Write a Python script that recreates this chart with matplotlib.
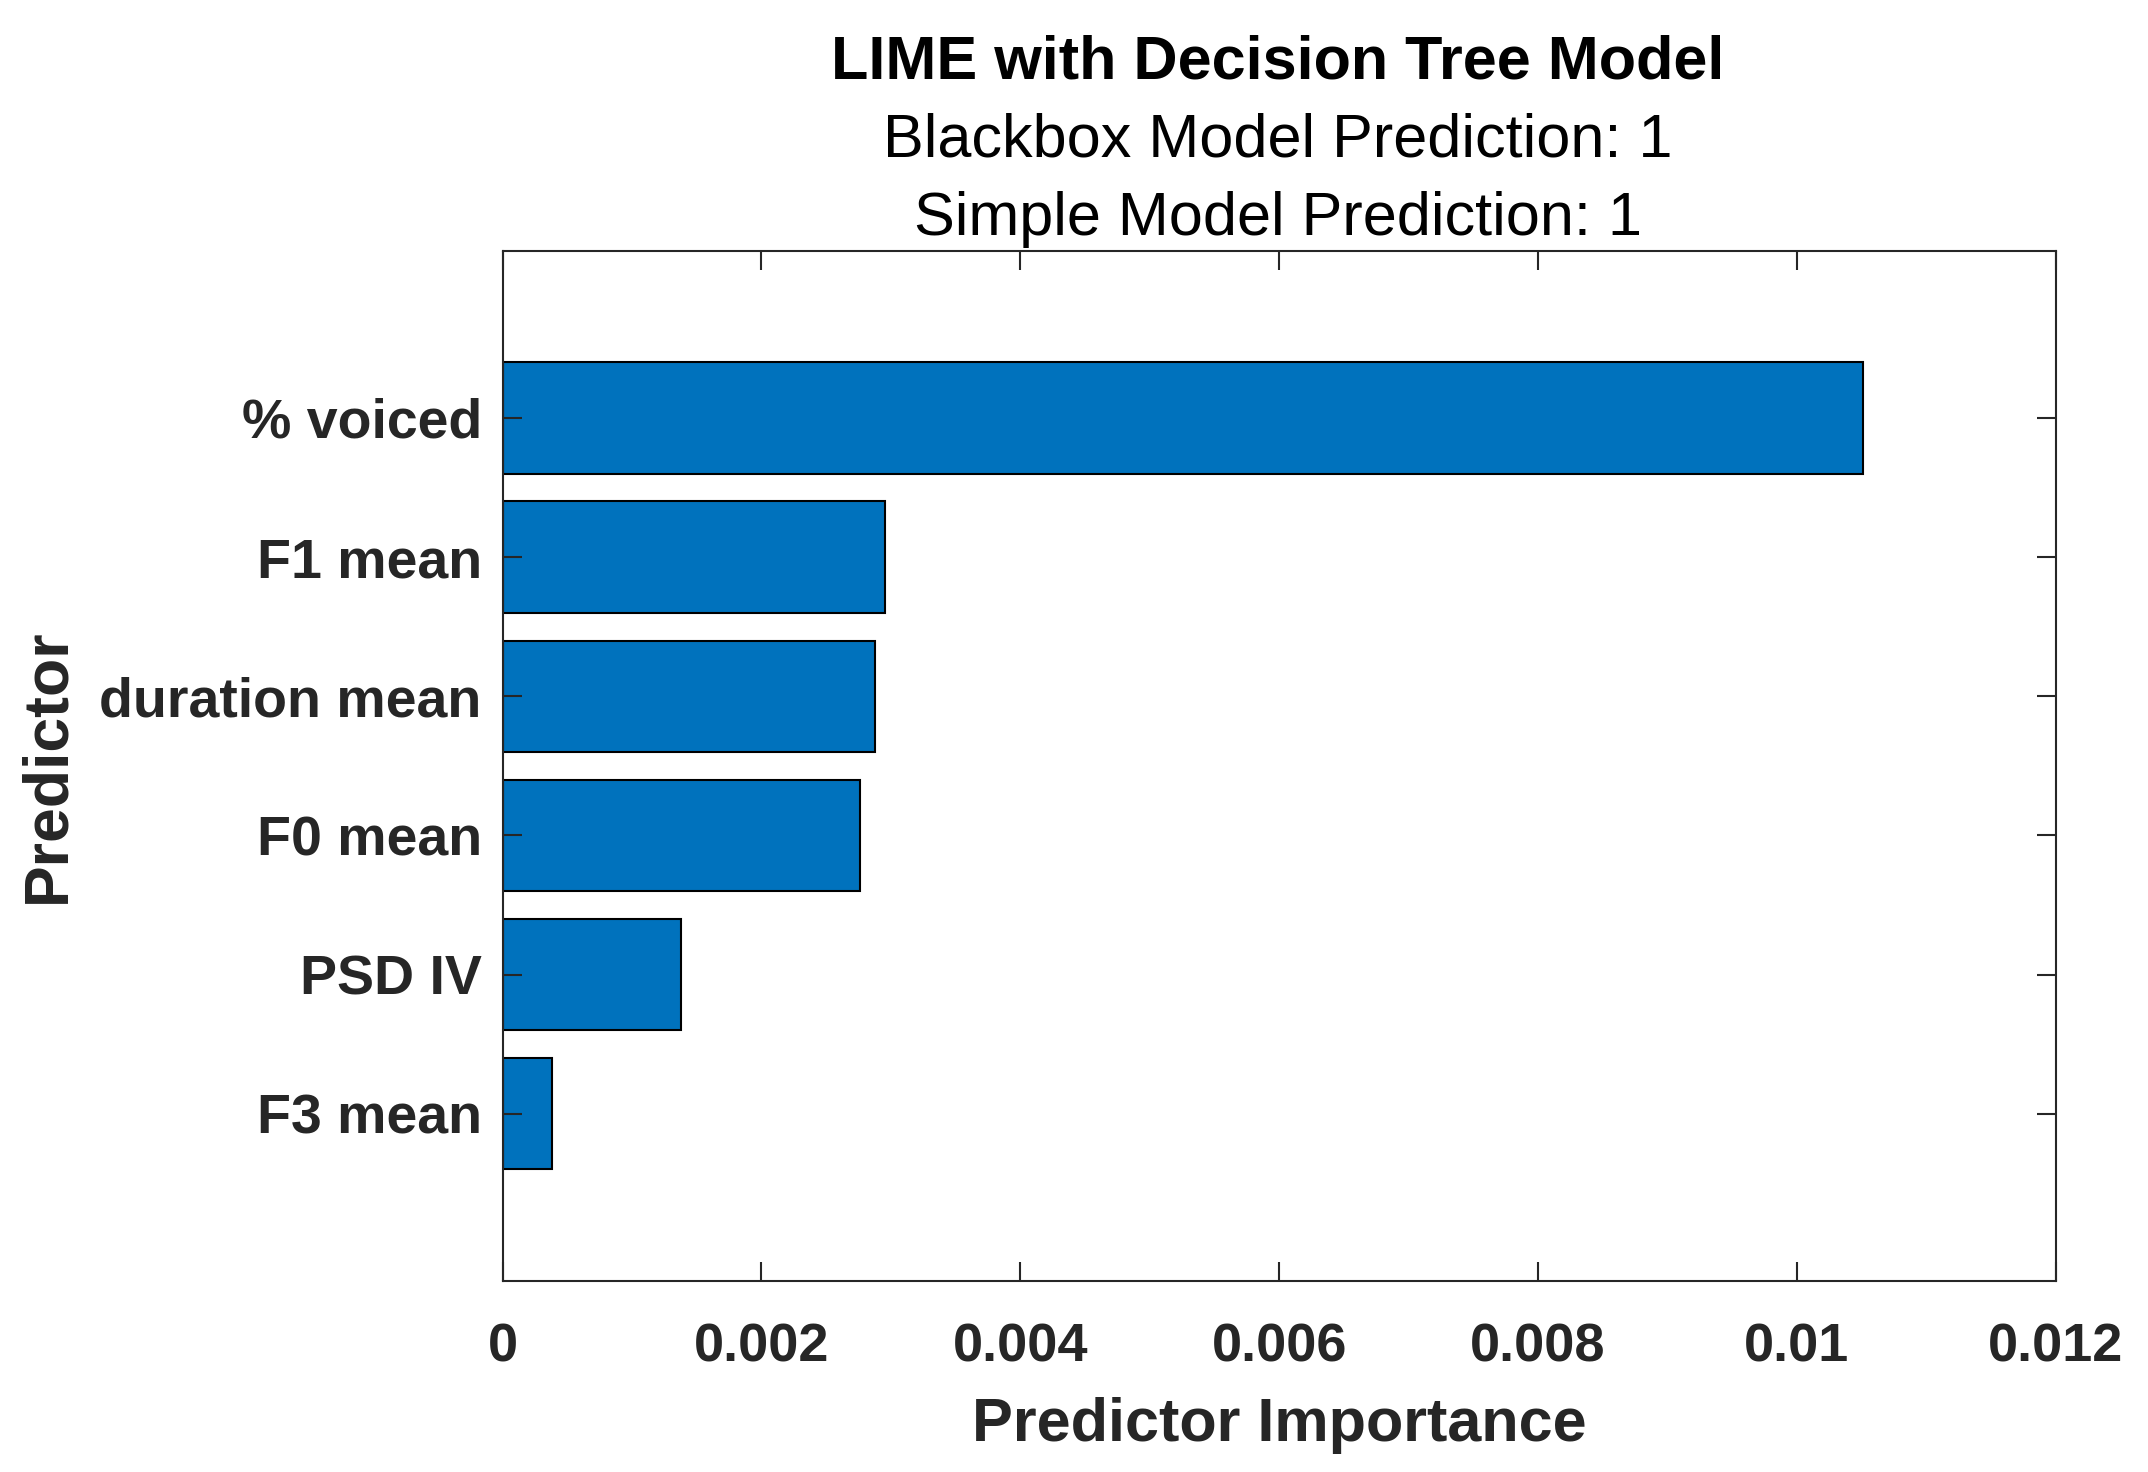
import numpy as np
import matplotlib.pyplot as plt

predictors = ['% voiced', 'F1 mean', 'duration mean', 'F0 mean', 'PSD IV', 'F3 mean']
importance = [0.01051, 0.002955, 0.00288, 0.002764, 0.001377, 0.000381]

plt.rcParams['font.family'] = ['Liberation Sans', 'DejaVu Sans']

fig = plt.figure(figsize=(21.48, 14.72), dpi=100)
ax = fig.add_axes([0.234, 0.130, 0.723, 0.6995])

pos = np.arange(len(predictors), 0, -1)
ax.barh(pos, importance, height=0.8, color='#0072BD', edgecolor='black', linewidth=1.5)

ax.set_xlim(0, 0.012)
ax.set_ylim(-0.2, 7.2)
ax.set_xticks(np.arange(0, 0.0121, 0.002))
ax.set_xticklabels(['0', '0.002', '0.004', '0.006', '0.008', '0.01', '0.012'])
ax.set_yticks(pos)
ax.set_yticklabels(predictors)

ax.tick_params(direction='in', length=14, width=1.5, colors='#262626',
               top=True, right=True)
ax.tick_params(axis='y', labelsize=40, pad=15)
ax.tick_params(axis='x', labelsize=39, pad=30)
for lab in ax.get_xticklabels() + ax.get_yticklabels():
    lab.set_fontweight('bold')
for s in ax.spines.values():
    s.set_linewidth(1.5)
    s.set_color('#262626')

ax.set_xlabel('Predictor Importance', fontsize=44, fontweight='bold', labelpad=18,
              color='#262626')
ax.set_ylabel('Predictor', fontsize=45, fontweight='bold', labelpad=16,
              color='#262626')

fig.text(0.595, 0.957, 'LIME with Decision Tree Model', ha='center', va='center',
         fontsize=44, fontweight='bold')
fig.text(0.595, 0.904, 'Blackbox Model Prediction: 1', ha='center', va='center', fontsize=44)
fig.text(0.595, 0.851, 'Simple Model Prediction: 1', ha='center', va='center', fontsize=44)

fig.savefig('out.png', dpi=100)
